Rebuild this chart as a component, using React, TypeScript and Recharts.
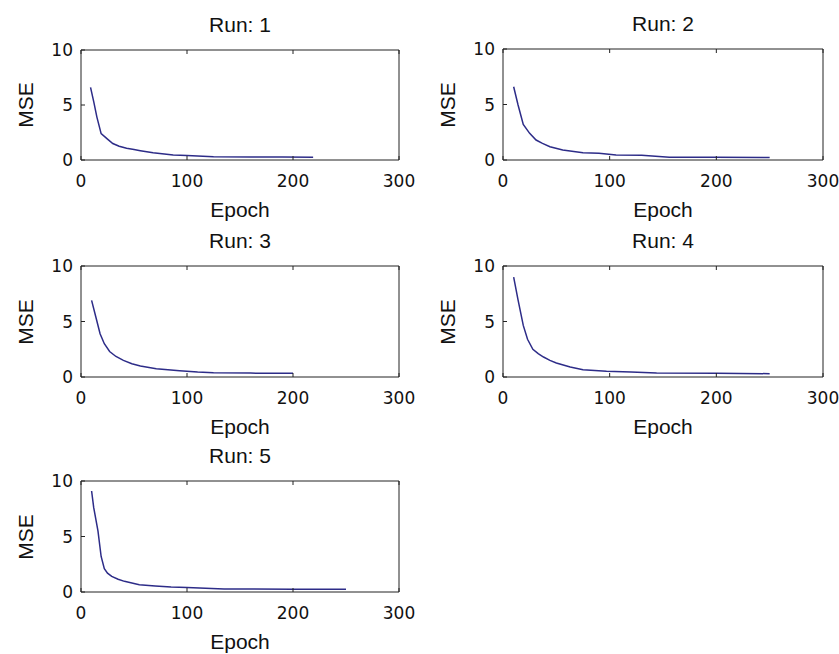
import React from 'react';
import { LineChart, Line, XAxis, YAxis } from 'recharts';

// values, one pair of arrays per run
const run1Epochs = [9, 12, 15, 19, 25, 30, 36, 43, 50, 56, 68, 87, 100, 125, 160, 190, 219];
const run1Mse = [6.6, 5.3, 3.9, 2.4, 1.9, 1.5, 1.25, 1.06, 0.95, 0.85, 0.65, 0.45, 0.42, 0.3, 0.28, 0.27, 0.26];

const run2Epochs = [10, 14, 19, 25, 31, 37, 44, 56, 75, 90, 106, 130, 156, 200, 250];
const run2Mse = [6.6, 5.0, 3.2, 2.4, 1.8, 1.5, 1.2, 0.9, 0.66, 0.6, 0.45, 0.42, 0.25, 0.24, 0.23];

const run3Epochs = [10, 14, 18, 22, 27, 33, 40, 48, 56, 71, 93, 110, 125, 160, 200];
const run3Mse = [6.9, 5.4, 3.9, 3.0, 2.3, 1.85, 1.5, 1.2, 1.0, 0.75, 0.57, 0.45, 0.39, 0.35, 0.33];

const run4Epochs = [10, 14, 19, 23, 28, 33, 38, 44, 50, 63, 75, 97, 120, 144, 200, 250];
const run4Mse = [9.0, 7.0, 4.65, 3.4, 2.5, 2.1, 1.8, 1.5, 1.26, 0.9, 0.66, 0.51, 0.45, 0.36, 0.33, 0.3];

const run5Epochs = [10, 12, 16, 19, 22, 25, 29, 35, 41, 55, 70, 85, 100, 135, 200, 250];
const run5Mse = [9.1, 7.6, 5.5, 3.2, 2.1, 1.7, 1.4, 1.15, 0.96, 0.66, 0.55, 0.45, 0.4, 0.27, 0.25, 0.24];

const xTicks = [0, 100, 200, 300];
const yTicks = [0, 5, 10];

const toRows = (epochs: number[], mse: number[]) => epochs.map((e, i) => ({ epoch: e, mse: mse[i] }));

const tickFont = '"DejaVu Sans", sans-serif';
const labelFont = '"Liberation Sans", Arial, sans-serif';
const boxColor = '#222';

const BottomTick = (props: any) => {
  const { x, y, payload } = props;
  return (
    <g>
      <line x1={x} y1={y} x2={x} y2={y - 4} stroke={boxColor} />
      <text x={x} y={y + 27} textAnchor="middle" fontSize={17} fontFamily={tickFont} fill="#111">
        {payload.value}
      </text>
    </g>
  );
};

const TopTick = (props: any) => {
  const { x, y } = props;
  return <line x1={x} y1={y} x2={x} y2={y + 4} stroke={boxColor} />;
};

const LeftTick = (props: any) => {
  const { x, y, payload } = props;
  return (
    <g>
      <line x1={x} y1={y} x2={x + 4} y2={y} stroke={boxColor} />
      <text x={x - 8} y={y + 6} textAnchor="end" fontSize={17} fontFamily={tickFont} fill="#111">
        {payload.value}
      </text>
    </g>
  );
};

const RightTick = (props: any) => {
  const { x, y } = props;
  return <line x1={x} y1={y} x2={x - 4} y2={y} stroke={boxColor} />;
};

interface PanelProps {
  title: string;
  rows: { epoch: number; mse: number }[];
  plotLeft: number;
  plotTop: number;
  plotW: number;
  plotH: number;
}

const Panel: React.FC<PanelProps> = ({ title, rows, plotLeft, plotTop, plotW, plotH }) => {
  const mLeft = 81;
  const mTop = 50;
  const mRight = 20;
  const mBottom = 60;
  const labelStyle: React.CSSProperties = {
    position: 'absolute',
    fontFamily: labelFont,
    fontSize: 21,
    lineHeight: '21px',
    color: '#111',
    whiteSpace: 'nowrap',
  };
  return (
    <>
      <div style={{ position: 'absolute', left: plotLeft - mLeft, top: plotTop - mTop }}>
        <LineChart
          width={mLeft + plotW + mRight}
          height={mTop + plotH + mBottom}
          data={rows}
          margin={{ top: mTop - 1, left: mLeft - 1, right: mRight - 1, bottom: mBottom - 1 }}
        >
          <XAxis
            type="number"
            dataKey="epoch"
            domain={[0, 300]}
            ticks={xTicks}
            interval={0}
            height={1}
            tickSize={0}
            tickMargin={0}
            tickLine={false}
            tick={BottomTick}
            axisLine={{ stroke: boxColor }}
          />
          <XAxis
            xAxisId="top"
            orientation="top"
            type="number"
            dataKey="epoch"
            domain={[0, 300]}
            ticks={xTicks}
            interval={0}
            height={1}
            tickSize={0}
            tickMargin={0}
            tickLine={false}
            tick={TopTick}
            axisLine={{ stroke: boxColor }}
          />
          <YAxis
            type="number"
            domain={[0, 10]}
            ticks={yTicks}
            interval={0}
            width={1}
            tickSize={0}
            tickMargin={0}
            tickLine={false}
            tick={LeftTick}
            axisLine={{ stroke: boxColor }}
          />
          <YAxis
            yAxisId="right"
            orientation="right"
            type="number"
            domain={[0, 10]}
            ticks={yTicks}
            interval={0}
            width={1}
            tickSize={0}
            tickMargin={0}
            tickLine={false}
            tick={RightTick}
            axisLine={{ stroke: boxColor }}
          />
          <Line
            type="linear"
            dataKey="mse"
            stroke="#2d2c88"
            strokeWidth={1.5}
            dot={false}
            isAnimationActive={false}
          />
        </LineChart>
      </div>
      <div style={{ ...labelStyle, left: plotLeft, width: plotW, textAlign: 'center', top: plotTop - 36 }}>{title}</div>
      <div style={{ ...labelStyle, left: plotLeft, width: plotW, textAlign: 'center', top: plotTop + plotH + 39 }}>Epoch</div>
      <div
        style={{
          ...labelStyle,
          left: plotLeft - 56,
          top: plotTop + plotH / 2,
          transform: 'translate(-50%, -50%) rotate(-90deg)',
        }}
      >
        MSE
      </div>
    </>
  );
};

export default function App() {
  return (
    <div
      style={{
        position: 'absolute',
        left: 0,
        top: 0,
        width: 839,
        height: 654,
        background: '#fff',
        overflow: 'hidden',
      }}
    >
      <Panel title="Run: 1" rows={toRows(run1Epochs, run1Mse)} plotLeft={81} plotTop={50} plotW={318} plotH={110} />
      <Panel title="Run: 2" rows={toRows(run2Epochs, run2Mse)} plotLeft={503} plotTop={49} plotW={320} plotH={111} />
      <Panel title="Run: 3" rows={toRows(run3Epochs, run3Mse)} plotLeft={81} plotTop={266} plotW={318} plotH={111} />
      <Panel title="Run: 4" rows={toRows(run4Epochs, run4Mse)} plotLeft={503} plotTop={266} plotW={320} plotH={111} />
      <Panel title="Run: 5" rows={toRows(run5Epochs, run5Mse)} plotLeft={81} plotTop={481} plotW={318} plotH={111} />
    </div>
  );
}
